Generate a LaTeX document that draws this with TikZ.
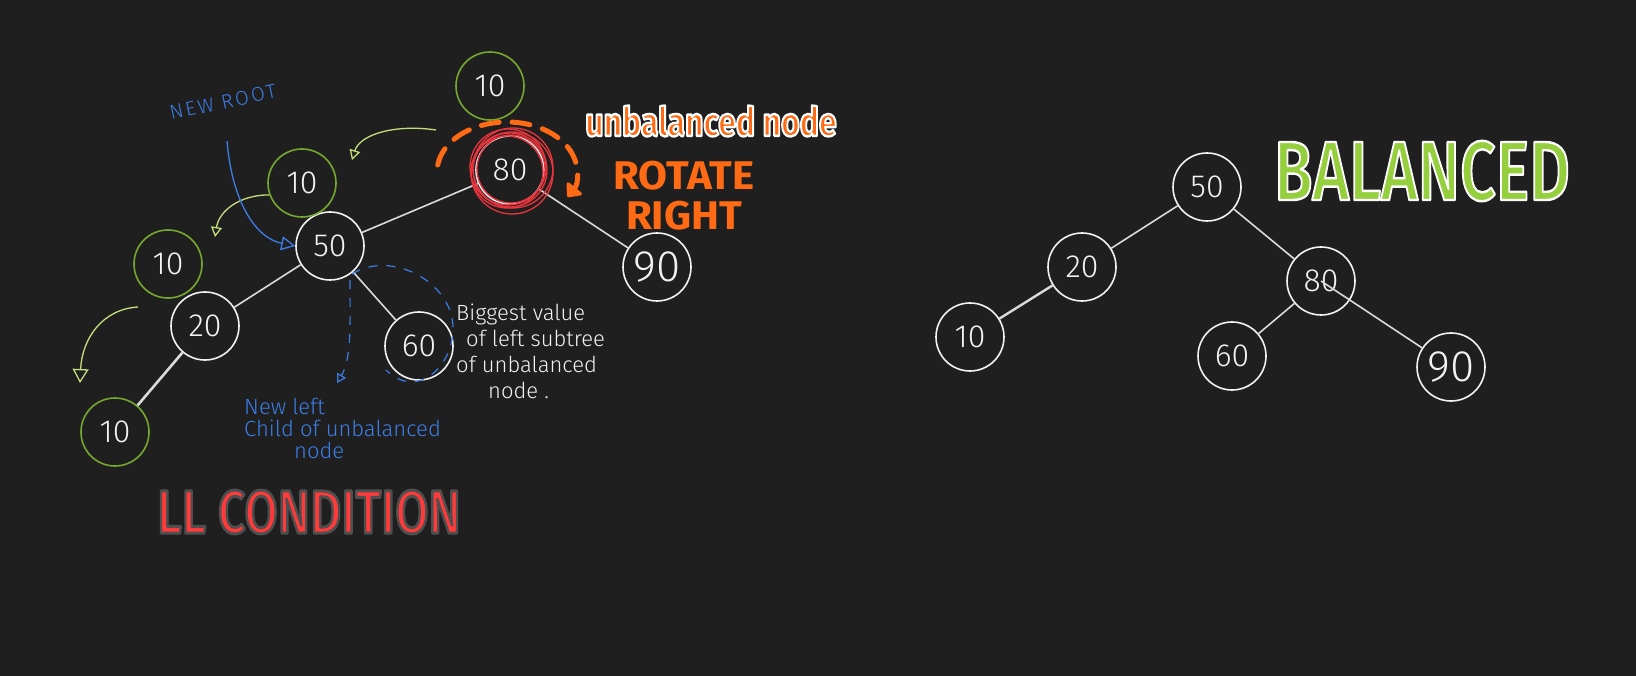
\documentclass[tikz,border=0pt]{standalone}
\usepackage{fontspec}
\setmainfont{Fira Sans}
\newfontfamily\handfont{Fira Sans Light}
\newfontfamily\titlefont{Fira Sans Medium}
\usetikzlibrary{arrows.meta}

\definecolor{board}{HTML}{1F1F1F}
\definecolor{chalk}{HTML}{F2F2F2}
\definecolor{copygreen}{HTML}{76A830}
\definecolor{hintgreen}{HTML}{C5DE7C}
\definecolor{penblue}{HTML}{3C7DE6}
\definecolor{penorange}{HTML}{FF6A14}
\definecolor{penred}{HTML}{E8343C}
\definecolor{okgreen}{HTML}{96CF3E}
\definecolor{llred}{HTML}{FF3A3A}

% text filled in the current colour, with a rim of the given rgb colour and width
\newcommand\rimmed[3]{\special{pdf:literal direct #1 RG #2 w 1 j 2 Tr}#3\special{pdf:literal direct 0 Tr 0 j}}

\tikzset{
  treenode/.style={draw=chalk, circle, line width=1.6pt, minimum size=68pt, inner sep=0pt,
    text=chalk, font=\handfont\fontsize{32}{32}\selectfont},
  copynode/.style={treenode, draw=copygreen},
  bignum/.style={font=\handfont\fontsize{44}{44}\selectfont},
  branch/.style={draw=chalk!90!black, line width=1.6pt},
  hint/.style={draw=hintgreen, line width=1.3pt, -{Triangle[open, length=10pt, width=11pt]}},
  scribble/.style={draw=penred, line width=1.3pt},
  handnote/.style={align=left, inner sep=0pt, font=\handfont\fontsize{22}{26}\selectfont},
  bluedash/.style={draw=penblue, line width=1.2pt, dash pattern=on 9pt off 9pt},
}

\begin{document}
\begin{tikzpicture}[x=1pt, y=-1pt]
  % board
  \fill[board] (0,0) rectangle (1636,676);
  \useasboundingbox (0,0) rectangle (1636,676);

  % LL case
  \node[treenode] (n80) at (510,170) {80};
  \node[treenode] (n50) at (330,246) {50};
  \node[treenode] (n20) at (205,326) {20};
  \node[treenode] (n60) at (419,346) {60};
  \node[treenode, bignum] (n90) at (657,267) {90};
  \node[copynode] (g10a) at (490,86) {10};
  \node[copynode] (g10b) at (302,183) {10};
  \node[copynode] (g10c) at (168,264) {10};
  \node[copynode] (g10d) at (115,432) {10};

  \draw[branch] (n80) -- (n50);
  \draw[branch] (n80) -- (n90);
  \draw[branch] (n50) -- (n20);
  \draw[branch] (n50) -- (n60);
  \draw[branch, line width=2.6pt] (n20) -- (g10d);

  % unbalanced node
  \foreach \dx/\dy/\r in {0/0/37, 3/-2/40, -3/2/36, 2/3/41, -2/-3/38, 1/-1/34}
    \draw[scribble] ([shift={(\dx,\dy)}]n80.center) circle[radius=\r];
  \draw[penorange, line width=5pt, dash pattern=on 18pt off 13pt, line cap=round,
      -{Triangle[round, length=13pt, width=22pt]}]
    ([shift={(-3,2)}]n80.center) ++(188:70 and 50)
    arc[start angle=188, end angle=390, x radius=70, y radius=50];
  \node[text=penorange, font=\bfseries\fontsize{40}{40}\selectfont, xscale=.8]
    (unbal) at (711,121) {\rimmed{1 1 1}{2.4}{unbalanced node}};
  \node[text=penorange, font=\bfseries\fontsize{40}{40}\selectfont, align=center, xscale=1.05]
    (rotright) at (684,196) {ROTATE\\RIGHT};

  % copies of 10 moving down
  \draw[hint] ([shift={(-54,44)}]g10a.center) .. controls +(-40,-6) and +(8,-26) .. ([shift={(50,-23)}]g10b.center);
  \draw[hint] (g10b.200) .. controls +(-30,0) and +(4,-26) .. ([shift={(-87,54)}]g10b.center);
  \draw[hint, -{Triangle[open, length=14pt, width=16pt]}]
    ([shift={(-30,43)}]g10c.center) .. controls +(-35,2) and +(2,-45) .. ([shift={(-88,119)}]g10c.center);

  % notes
  \node[handnote, text=penblue, rotate=12, font=\handfont\fontsize{20}{20}\selectfont\addfontfeatures{LetterSpace=12}]
    (newroot) at (223,102) {NEW ROOT};
  \draw[penblue, line width=1.3pt, -{Triangle[open, length=14pt, width=14pt]}]
    ([shift={(4,39)}]newroot.center) .. controls +(5,60) and +(-40,-8) .. (n50.west);
  \draw[bluedash] ([shift={(-67,-72)}]n60.center) .. controls +(40,-25) and +(0,-45) .. ([shift={(34,-18)}]n60.center)
    .. controls +(0,40) and +(30,30) .. ([shift={(-33,24)}]n60.center);
  \draw[bluedash, -{Triangle[open, length=9pt, width=10pt]}]
    ([shift={(-69,-66)}]n60.center) .. controls +(0,40) and +(15,-25) .. ([shift={(-82,37)}]n60.center);
  \node[handnote, text=penblue, anchor=north west, font=\handfont\fontsize{22}{22}\selectfont]
    (newleft) at (244,398) {New left\\Child of unbalanced\\\hspace*{50pt}node};
  \node[handnote, text=chalk, anchor=north west]
    (biggest) at (456,304) {Biggest value\\\hspace*{10pt}of left subtree\\of unbalanced\\\hspace*{32pt}node .};
  \node[text=llred, font=\titlefont\fontsize{61}{61}\selectfont, xscale=.79]
    (llcond) at (309,512) {\rimmed{.31 .31 .31}{3}{LL CONDITION}};

  % balanced tree
  \node[treenode] (r50) at (1207,187) {50};
  \node[treenode] (r20) at (1082,267) {20};
  \node[treenode] (r10) at (970,337) {10};
  \node[treenode] (r80) at (1321,281) {80};
  \node[treenode] (r60) at (1232,356) {60};
  \node[treenode, bignum] (r90) at (1451,367) {90};

  \draw[branch] (r50) -- (r20);
  \draw[branch] (r50) -- (r80);
  \draw[branch, line width=2.4pt] (r20) -- (r10);
  \draw[branch] (r80) -- (r60);
  \draw[branch] (r80.center) -- (r90);

  \node[text=okgreen, font=\titlefont\fontsize{84}{84}\selectfont, xscale=.75]
    (balanced) at (1422,171) {\rimmed{1 1 1}{2.4}{BALANCED}};
\end{tikzpicture}
\end{document}
